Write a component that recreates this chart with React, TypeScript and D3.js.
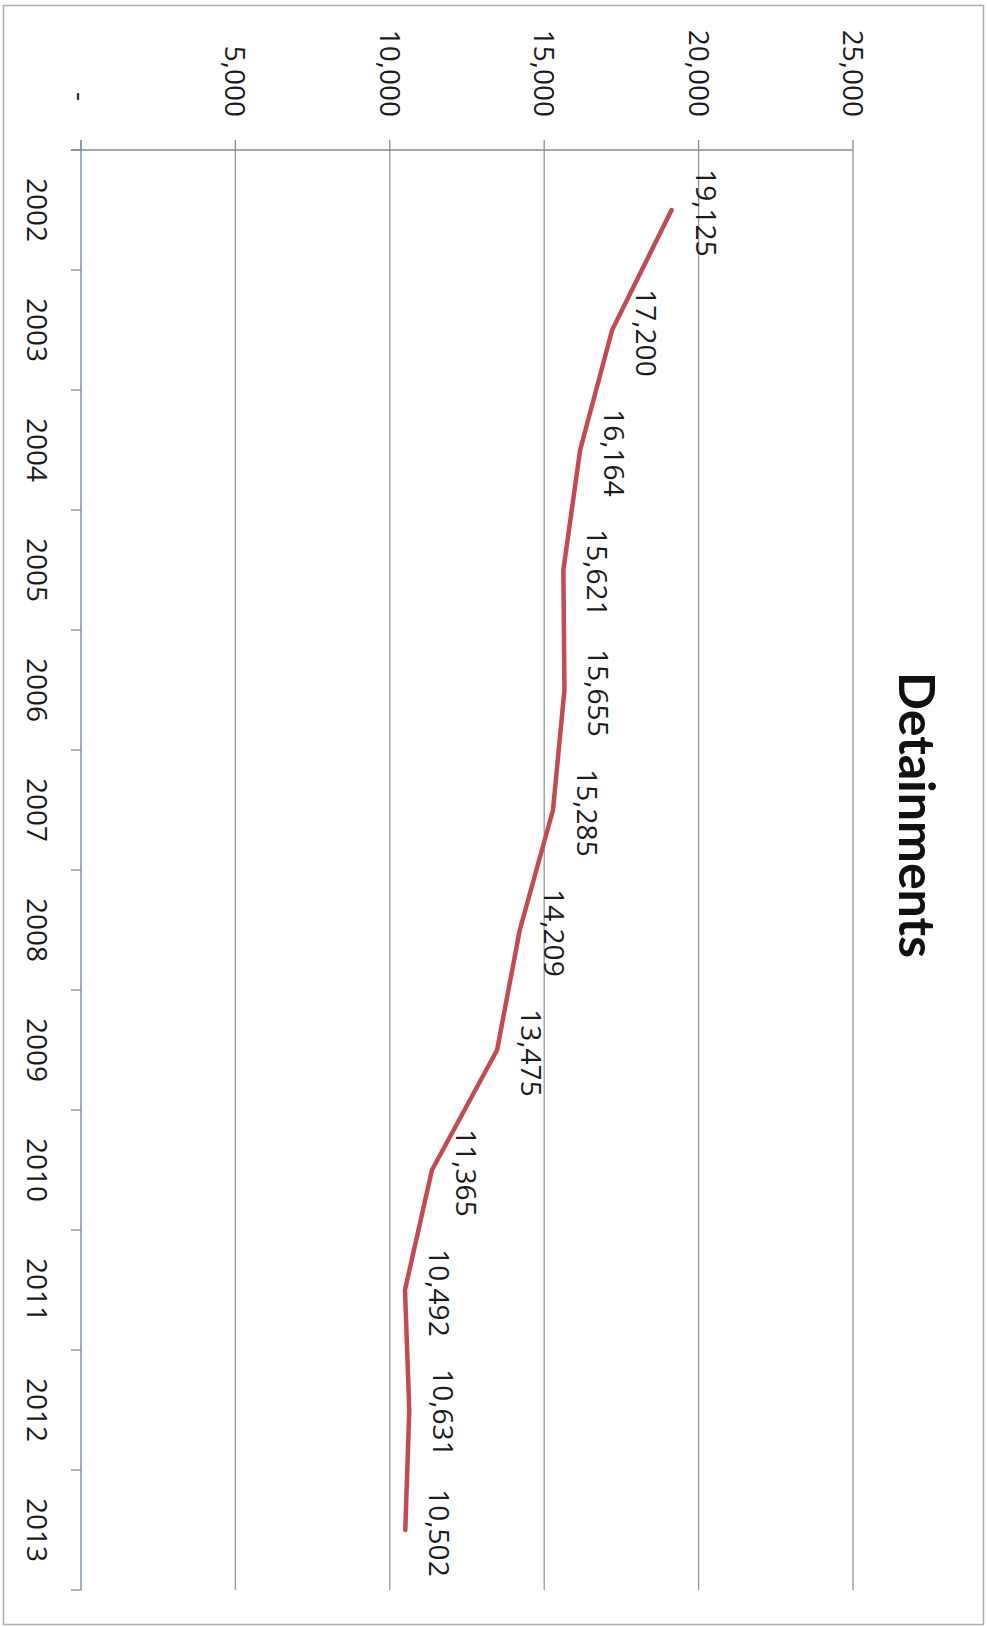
import React from "react";
import * as d3 from "d3";

// Annual detainment counts, 2002–2013
const years = ["2002", "2003", "2004", "2005", "2006", "2007", "2008", "2009", "2010", "2011", "2012", "2013"];
const detainments = [19125, 17200, 16164, 15621, 15655, 15285, 14209, 13475, 11365, 10492, 10631, 10502];
const valueTicks = [0, 5000, 10000, 15000, 20000, 25000];
const chartTitle = "Detainments";

const W = 987;
const H = 1627;

const numFont = "'Open Sans', 'DejaVu Sans', sans-serif";
const titleFont = "Lato, 'Open Sans', sans-serif";

export default function App() {
  // The chart is laid out in an unrotated frame (width H, height W)
  // and then turned a quarter turn clockwise onto the page.
  const x = d3.scaleBand<string>().domain(years).range([150, 1590]).padding(0);
  const y = d3.scaleLinear().domain([0, 25000]).range([906, 134]);
  const cx = (yr: string) => (x(yr) as number) + x.bandwidth() / 2;

  const line = d3
    .line<number>()
    .x((_, i) => cx(years[i]))
    .y((d) => y(d));

  const fmt = d3.format(",");
  // accounting-style zero shows a dash padded by a digit width
  const tickLabel = (v: number) => (v === 0 ? "-\u2007" : fmt(v));

  const boundaries = d3.range(years.length + 1).map((i) => x.range()[0] + i * x.step());
  const gridColor = "#8f979f";
  const axisColor = "#858b90";

  return (
    <svg width={W} height={H} style={{ position: "absolute", left: 0, top: 0, background: "#fff" }}>
      <rect x={0} y={0} width={W} height={H} fill="#fff" />
      {/* chart area border */}
      <rect x={3.5} y={5.5} width={980} height={1619} fill="none" stroke="#a7adb3" strokeWidth={1.5} />

      <g transform={`translate(${W},0) rotate(90)`}>
        {/* horizontal gridlines */}
        {valueTicks
          .filter((v) => v > 0)
          .map((v) => (
            <line key={"g" + v} x1={150} x2={1590} y1={y(v)} y2={y(v)} stroke={gridColor} strokeWidth={1.3} />
          ))}

        {/* value axis */}
        <line x1={150} x2={150} y1={y(0) + 10} y2={y(25000)} stroke={axisColor} strokeWidth={1.5} />
        {valueTicks.map((v) => (
          <line key={"vt" + v} x1={140} x2={150} y1={y(v)} y2={y(v)} stroke={axisColor} strokeWidth={1.3} />
        ))}
        {valueTicks.map((v) => (
          <text
            key={"vl" + v}
            x={117}
            y={y(v)}
            dy="0.36em"
            textAnchor="end"
            fontFamily={numFont}
            fontSize={28}
            fill="#1b1b1b"
          >
            {tickLabel(v)}
          </text>
        ))}

        {/* category axis */}
        <line x1={140} x2={1590} y1={y(0)} y2={y(0)} stroke="#7f93a8" strokeWidth={1.5} />
        {boundaries.map((b, i) => (
          <line key={"ct" + i} x1={b} x2={b} y1={y(0)} y2={y(0) + 10} stroke={axisColor} strokeWidth={1.3} />
        ))}
        {years.map((yr) => (
          <text
            key={"cl" + yr}
            x={cx(yr)}
            y={960}
            textAnchor="middle"
            fontFamily={numFont}
            fontSize={28}
            fill="#1b1b1b"
          >
            {yr}
          </text>
        ))}

        {/* series */}
        <path d={line(detainments) as string} fill="none" stroke="#c44a52" strokeWidth={4.5} strokeLinejoin="round" strokeLinecap="round" />

        {/* data labels */}
        {detainments.map((v, i) => (
          <text
            key={"dl" + i}
            x={cx(years[i]) + 3}
            y={y(v) - 24}
            textAnchor="middle"
            fontFamily={numFont}
            fontSize={28}
            fill="#1b1b1b"
          >
            {fmt(v)}
          </text>
        ))}

        {/* title */}
        <text x={815} y={88} textAnchor="middle" fontFamily={titleFont} fontWeight={700} fontSize={50} fill="#111">
          {chartTitle}
        </text>
      </g>
    </svg>
  );
}
